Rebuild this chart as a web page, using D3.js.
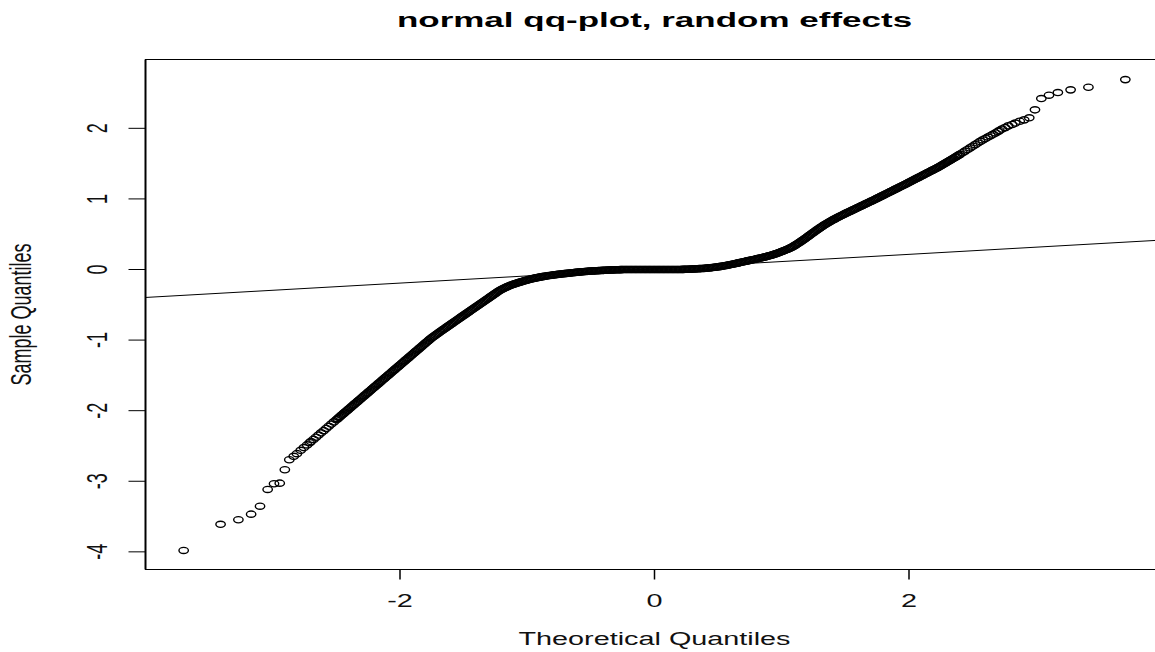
<!DOCTYPE html>
<html>
<head>
<meta charset="utf-8">
<script src="https://cdn.jsdelivr.net/npm/d3@7"></script>
<style>
body { margin: 0; background: #fff; }
svg { display: block; }
</style>
</head>
<body>
<div id="chart"></div>
<script>
// values (theoretical quantile, sample quantile)
var lowTailTheo   = [-3.70, -3.41, -3.27, -3.17, -3.10, -3.04, -2.99, -2.945, -2.905, -2.87, -2.835, -2.81, -2.78, -2.755, -2.73, -2.71];
var lowTailSample = [-3.98, -3.61, -3.545, -3.466, -3.353, -3.116, -3.035, -3.027, -2.837, -2.695, -2.647, -2.609, -2.562, -2.523, -2.485, -2.454];

var bodyTheo = [
 -2.70, -2.68, -2.66, -2.64, -2.62, -2.60, -2.58, -2.56, -2.54, -2.52,
 -2.50, -2.49, -2.48, -2.47, -2.46, -2.45, -2.44, -2.43, -2.42, -2.41,
 -2.40, -2.39, -2.38, -2.37, -2.36, -2.35, -2.34, -2.33, -2.32, -2.31,
 -2.30, -2.29, -2.28, -2.27, -2.26, -2.25, -2.24, -2.23, -2.22, -2.21,
 -2.20, -2.19, -2.18, -2.17, -2.16, -2.15, -2.14, -2.13, -2.12, -2.11,
 -2.10, -2.09, -2.08, -2.07, -2.06, -2.05, -2.04, -2.03, -2.02, -2.01,
 -2.00, -1.99, -1.98, -1.97, -1.96, -1.95, -1.94, -1.93, -1.92, -1.91,
 -1.90, -1.89, -1.88, -1.87, -1.86, -1.85, -1.84, -1.83, -1.82, -1.81,
 -1.80, -1.79, -1.78, -1.77, -1.76, -1.75, -1.74, -1.73, -1.72, -1.71,
 -1.70, -1.69, -1.68, -1.67, -1.66, -1.65, -1.64, -1.63, -1.62, -1.61,
 -1.60, -1.59, -1.58, -1.57, -1.56, -1.55, -1.54, -1.53, -1.52, -1.51,
 -1.50, -1.49, -1.48, -1.47, -1.46, -1.45, -1.44, -1.43, -1.42, -1.41,
 -1.40, -1.39, -1.38, -1.37, -1.36, -1.35, -1.34, -1.33, -1.32, -1.31,
 -1.30, -1.29, -1.28, -1.27, -1.26, -1.25, -1.24, -1.23, -1.22, -1.21,
 -1.20, -1.19, -1.18, -1.17, -1.16, -1.15, -1.14, -1.13, -1.12, -1.11,
 -1.10, -1.09, -1.08, -1.07, -1.06, -1.05, -1.04, -1.03, -1.02, -1.01,
 -1.00, -0.99, -0.98, -0.97, -0.96, -0.95, -0.94, -0.93, -0.92, -0.91,
 -0.90, -0.89, -0.88, -0.87, -0.86, -0.85, -0.84, -0.83, -0.82, -0.81,
 -0.80, -0.79, -0.78, -0.77, -0.76, -0.75, -0.74, -0.73, -0.72, -0.71,
 -0.70, -0.69, -0.68, -0.67, -0.66, -0.65, -0.64, -0.63, -0.62, -0.61,
 -0.60, -0.59, -0.58, -0.57, -0.56, -0.55, -0.54, -0.53, -0.52, -0.51,
 -0.50, -0.49, -0.48, -0.47, -0.46, -0.45, -0.44, -0.43, -0.42, -0.41,
 -0.40, -0.39, -0.38, -0.37, -0.36, -0.35, -0.34, -0.33, -0.32, -0.31,
 -0.30, -0.29, -0.28, -0.27, -0.26, -0.25, -0.24, -0.23, -0.22, -0.21,
 -0.20, -0.19, -0.18, -0.17, -0.16, -0.15, -0.14, -0.13, -0.12, -0.11,
 -0.10, -0.09, -0.08, -0.07, -0.06, -0.05, -0.04, -0.03, -0.02, -0.01,
 0.00, 0.01, 0.02, 0.03, 0.04, 0.05, 0.06, 0.07, 0.08, 0.09,
 0.10, 0.11, 0.12, 0.13, 0.14, 0.15, 0.16, 0.17, 0.18, 0.19,
 0.20, 0.21, 0.22, 0.23, 0.24, 0.25, 0.26, 0.27, 0.28, 0.29,
 0.30, 0.31, 0.32, 0.33, 0.34, 0.35, 0.36, 0.37, 0.38, 0.39,
 0.40, 0.41, 0.42, 0.43, 0.44, 0.45, 0.46, 0.47, 0.48, 0.49,
 0.50, 0.51, 0.52, 0.53, 0.54, 0.55, 0.56, 0.57, 0.58, 0.59,
 0.60, 0.61, 0.62, 0.63, 0.64, 0.65, 0.66, 0.67, 0.68, 0.69,
 0.70, 0.71, 0.72, 0.73, 0.74, 0.75, 0.76, 0.77, 0.78, 0.79,
 0.80, 0.81, 0.82, 0.83, 0.84, 0.85, 0.86, 0.87, 0.88, 0.89,
 0.90, 0.91, 0.92, 0.93, 0.94, 0.95, 0.96, 0.97, 0.98, 0.99,
 1.00, 1.01, 1.02, 1.03, 1.04, 1.05, 1.06, 1.07, 1.08, 1.09,
 1.10, 1.11, 1.12, 1.13, 1.14, 1.15, 1.16, 1.17, 1.18, 1.19,
 1.20, 1.21, 1.22, 1.23, 1.24, 1.25, 1.26, 1.27, 1.28, 1.29,
 1.30, 1.31, 1.32, 1.33, 1.34, 1.35, 1.36, 1.37, 1.38, 1.39,
 1.40, 1.41, 1.42, 1.43, 1.44, 1.45, 1.46, 1.47, 1.48, 1.49,
 1.50, 1.51, 1.52, 1.53, 1.54, 1.55, 1.56, 1.57, 1.58, 1.59,
 1.60, 1.61, 1.62, 1.63, 1.64, 1.65, 1.66, 1.67, 1.68, 1.69,
 1.70, 1.71, 1.72, 1.73, 1.74, 1.75, 1.76, 1.77, 1.78, 1.79,
 1.80, 1.81, 1.82, 1.83, 1.84, 1.85, 1.86, 1.87, 1.88, 1.89,
 1.90, 1.91, 1.92, 1.93, 1.94, 1.95, 1.96, 1.97, 1.98, 1.99,
 2.00, 2.01, 2.02, 2.03, 2.04, 2.05, 2.06, 2.07, 2.08, 2.09,
 2.10, 2.11, 2.12, 2.13, 2.14, 2.15, 2.16, 2.17, 2.18, 2.19,
 2.20, 2.21, 2.22, 2.23, 2.24, 2.25, 2.26, 2.27, 2.28, 2.29,
 2.30, 2.31, 2.32, 2.33, 2.34, 2.35, 2.36, 2.37, 2.38, 2.39,
 2.40, 2.42, 2.44, 2.46, 2.48, 2.50, 2.52, 2.54, 2.56, 2.58,
 2.60, 2.62, 2.64, 2.66, 2.68, 2.70
];
var bodySample = [
 -2.438, -2.407, -2.376, -2.345, -2.314, -2.283, -2.252, -2.221, -2.190, -2.159,
 -2.128, -2.113, -2.097, -2.082, -2.066, -2.051, -2.035, -2.020, -2.004, -1.989,
 -1.973, -1.958, -1.942, -1.927, -1.911, -1.896, -1.880, -1.865, -1.849, -1.834,
 -1.818, -1.803, -1.787, -1.772, -1.756, -1.741, -1.725, -1.710, -1.694, -1.679,
 -1.663, -1.648, -1.632, -1.617, -1.601, -1.586, -1.570, -1.555, -1.539, -1.524,
 -1.508, -1.493, -1.477, -1.462, -1.446, -1.431, -1.415, -1.400, -1.384, -1.369,
 -1.353, -1.338, -1.322, -1.307, -1.291, -1.276, -1.260, -1.245, -1.229, -1.214,
 -1.198, -1.183, -1.167, -1.152, -1.136, -1.121, -1.105, -1.090, -1.074, -1.059,
 -1.043, -1.028, -1.012, -0.997, -0.981, -0.967, -0.954, -0.941, -0.928, -0.915,
 -0.902, -0.889, -0.876, -0.863, -0.850, -0.838, -0.825, -0.813, -0.800, -0.788,
 -0.775, -0.763, -0.750, -0.738, -0.725, -0.713, -0.700, -0.688, -0.675, -0.663,
 -0.650, -0.638, -0.625, -0.613, -0.600, -0.588, -0.575, -0.563, -0.550, -0.538,
 -0.525, -0.513, -0.500, -0.488, -0.475, -0.463, -0.450, -0.438, -0.425, -0.413,
 -0.400, -0.388, -0.375, -0.363, -0.350, -0.338, -0.325, -0.313, -0.301, -0.291,
 -0.281, -0.272, -0.263, -0.254, -0.246, -0.238, -0.231, -0.224, -0.217, -0.210,
 -0.204, -0.198, -0.192, -0.186, -0.181, -0.175, -0.170, -0.164, -0.159, -0.154,
 -0.149, -0.144, -0.139, -0.134, -0.130, -0.126, -0.122, -0.118, -0.115, -0.111,
 -0.108, -0.104, -0.101, -0.098, -0.095, -0.092, -0.089, -0.086, -0.084, -0.081,
 -0.079, -0.076, -0.074, -0.071, -0.069, -0.067, -0.065, -0.063, -0.061, -0.059,
 -0.057, -0.055, -0.053, -0.051, -0.049, -0.047, -0.045, -0.043, -0.041, -0.039,
 -0.037, -0.035, -0.034, -0.032, -0.031, -0.029, -0.028, -0.026, -0.025, -0.023,
 -0.022, -0.021, -0.020, -0.019, -0.018, -0.017, -0.016, -0.015, -0.014, -0.013,
 -0.012, -0.011, -0.010, -0.009, -0.008, -0.007, -0.006, -0.005, -0.005, -0.004,
 -0.004, -0.003, -0.003, -0.002, -0.002, -0.001, -0.001, -0.001, 0, 0,
 0, 0, 0, 0, 0, 0, 0, 0, 0, 0,
 0, 0, 0, 0, 0, 0, 0, 0, 0, 0,
 0, 0, 0, 0, 0, 0, 0, 0, 0, 0,
 0, 0, 0, 0, 0, 0, 0, 0, 0, 0,
 0.001, 0.001, 0.002, 0.002, 0.003, 0.003, 0.004, 0.004, 0.005, 0.006,
 0.007, 0.008, 0.009, 0.010, 0.011, 0.012, 0.013, 0.014, 0.015, 0.016,
 0.018, 0.019, 0.021, 0.023, 0.025, 0.027, 0.029, 0.031, 0.034, 0.036,
 0.039, 0.041, 0.044, 0.047, 0.050, 0.053, 0.056, 0.059, 0.063, 0.066,
 0.070, 0.074, 0.078, 0.082, 0.086, 0.090, 0.094, 0.098, 0.102, 0.106,
 0.110, 0.114, 0.118, 0.122, 0.126, 0.130, 0.134, 0.138, 0.142, 0.146,
 0.150, 0.154, 0.158, 0.162, 0.166, 0.170, 0.175, 0.179, 0.184, 0.189,
 0.194, 0.199, 0.204, 0.209, 0.215, 0.221, 0.227, 0.233, 0.240, 0.247,
 0.254, 0.261, 0.268, 0.275, 0.283, 0.291, 0.299, 0.308, 0.317, 0.327,
 0.338, 0.349, 0.360, 0.372, 0.384, 0.396, 0.409, 0.421, 0.434, 0.447,
 0.460, 0.473, 0.487, 0.500, 0.513, 0.526, 0.539, 0.552, 0.565, 0.578,
 0.590, 0.602, 0.614, 0.626, 0.637, 0.648, 0.659, 0.670, 0.680, 0.690,
 0.700, 0.710, 0.720, 0.730, 0.739, 0.748, 0.757, 0.766, 0.775, 0.784,
 0.793, 0.802, 0.810, 0.819, 0.827, 0.836, 0.845, 0.853, 0.862, 0.870,
 0.879, 0.888, 0.896, 0.905, 0.913, 0.922, 0.931, 0.939, 0.948, 0.956,
 0.965, 0.974, 0.982, 0.991, 1.000, 1.009, 1.018, 1.027, 1.036, 1.045,
 1.054, 1.063, 1.072, 1.081, 1.090, 1.099, 1.108, 1.117, 1.126, 1.135,
 1.144, 1.153, 1.162, 1.171, 1.180, 1.189, 1.198, 1.207, 1.216, 1.225,
 1.235, 1.244, 1.253, 1.263, 1.272, 1.281, 1.291, 1.300, 1.309, 1.318,
 1.328, 1.337, 1.346, 1.356, 1.365, 1.374, 1.384, 1.393, 1.402, 1.411,
 1.421, 1.430, 1.439, 1.449, 1.458, 1.469, 1.480, 1.490, 1.501, 1.512,
 1.523, 1.534, 1.544, 1.555, 1.566, 1.577, 1.588, 1.598, 1.609, 1.620,
 1.631, 1.654, 1.677, 1.700, 1.723, 1.746, 1.769, 1.792, 1.815, 1.836,
 1.856, 1.876, 1.895, 1.915, 1.935, 1.955
];

var highTailTheo   = [2.71, 2.73, 2.755, 2.78, 2.81, 2.835, 2.87, 2.905, 2.945, 2.99, 3.04, 3.10, 3.17, 3.27, 3.41, 3.70];
var highTailSample = [1.97, 1.99, 2.01, 2.035, 2.055, 2.075, 2.10, 2.12, 2.149, 2.262, 2.422, 2.469, 2.507, 2.545, 2.582, 2.69];

// qqline
var lineIntercept = 0.011;
var lineSlope = 0.1018;

var xTicks = [-2, 0, 2];
var yTicks = [-4, -3, -2, -1, 0, 1, 2];

var titleText = "normal qq-plot, random effects";
var xLabel = "Theoretical Quantiles";
var yLabel = "Sample Quantiles";

var width = 1155, height = 652;
var box = {left: 145.5, top: 59.5, right: 1163.5, bottom: 569.5};
var stretch = 1.6;   // the picture is wider than tall, text and circles follow it
var font = "'Liberation Sans', Arial, sans-serif";

var svg = d3.select("#chart")
	.append("svg")
	.attr("width", width)
	.attr("height", height);

var x = d3.scaleLinear().domain([-4.0, 4.0]).range([box.left, box.right]);
var y = d3.scaleLinear().domain([-4.25, 2.975]).range([box.bottom, box.top]);

var points = []
	.concat(lowTailTheo.map(function(d, i) { return [d, lowTailSample[i]]; }))
	.concat(bodyTheo.map(function(d, i) { return [d, bodySample[i]]; }))
	.concat(highTailTheo.map(function(d, i) { return [d, highTailSample[i]]; }));

svg.append("defs").append("clipPath").attr("id", "plotclip")
	.append("rect")
	.attr("x", box.left).attr("y", box.top)
	.attr("width", box.right - box.left).attr("height", box.bottom - box.top);

// points
svg.append("g")
	.attr("clip-path", "url(#plotclip)")
	.selectAll("ellipse")
	.data(points)
	.enter().append("ellipse")
	.attr("cx", function(d) { return x(d[0]); })
	.attr("cy", function(d) { return y(d[1]); })
	.attr("rx", 4.7)
	.attr("ry", 3.1)
	.attr("fill", "none")
	.attr("stroke", "#000")
	.attr("stroke-width", 1.4);

// reference line
var xd = x.domain();
svg.append("line")
	.attr("clip-path", "url(#plotclip)")
	.attr("x1", x(xd[0])).attr("y1", y(lineIntercept + lineSlope * xd[0]))
	.attr("x2", x(xd[1])).attr("y2", y(lineIntercept + lineSlope * xd[1]))
	.attr("stroke", "#000")
	.attr("stroke-width", 1);

// plot frame
svg.append("rect")
	.attr("x", box.left).attr("y", box.top)
	.attr("width", box.right - box.left).attr("height", box.bottom - box.top)
	.attr("fill", "none")
	.attr("stroke", "#000")
	.attr("stroke-width", 1);
svg.append("line")
	.attr("x1", box.left).attr("y1", box.top).attr("x2", box.left).attr("y2", box.bottom)
	.attr("stroke", "#000").attr("stroke-width", 2);

// x axis
var xAxis = svg.append("g");
xAxis.selectAll("line")
	.data(xTicks)
	.enter().append("line")
	.attr("x1", function(d) { return x(d); }).attr("x2", function(d) { return x(d); })
	.attr("y1", box.bottom).attr("y2", box.bottom + 10)
	.attr("stroke", "#000").attr("stroke-width", 1.5);
xAxis.selectAll("text")
	.data(xTicks)
	.enter().append("text")
	.attr("transform", function(d) { return "translate(" + x(d) + ",607) scale(" + stretch + ",1)"; })
	.attr("text-anchor", "middle")
	.attr("font-family", font)
	.attr("font-size", "18px")
	.attr("fill", "#111")
	.text(function(d) { return d; });

// y axis
var yAxis = svg.append("g");
yAxis.selectAll("line")
	.data(yTicks)
	.enter().append("line")
	.attr("x1", box.left - 17).attr("x2", box.left)
	.attr("y1", function(d) { return y(d); }).attr("y2", function(d) { return y(d); })
	.attr("stroke", "#000").attr("stroke-width", 1);
yAxis.selectAll("text")
	.data(yTicks)
	.enter().append("text")
	.attr("transform", function(d) { return "translate(107," + y(d) + ") rotate(-90) scale(1," + stretch + ")"; })
	.attr("text-anchor", "middle")
	.attr("font-family", font)
	.attr("font-size", "18px")
	.attr("fill", "#111")
	.text(function(d) { return d; });

// labels
svg.append("text")
	.attr("transform", "translate(" + ((box.left + box.right) / 2) + ",27) scale(1.75,1)")
	.attr("text-anchor", "middle")
	.attr("font-family", font)
	.attr("font-size", "20px")
	.attr("font-weight", "bold")
	.text(titleText);

svg.append("text")
	.attr("transform", "translate(" + ((box.left + box.right) / 2) + ",645) scale(" + stretch + ",1)")
	.attr("text-anchor", "middle")
	.attr("font-family", font)
	.attr("font-size", "18px")
	.attr("fill", "#111")
	.text(xLabel);

svg.append("text")
	.attr("transform", "translate(31," + ((box.top + box.bottom) / 2) + ") rotate(-90) scale(1," + stretch + ")")
	.attr("text-anchor", "middle")
	.attr("font-family", font)
	.attr("font-size", "18px")
	.attr("fill", "#111")
	.text(yLabel);
</script>
</body>
</html>
